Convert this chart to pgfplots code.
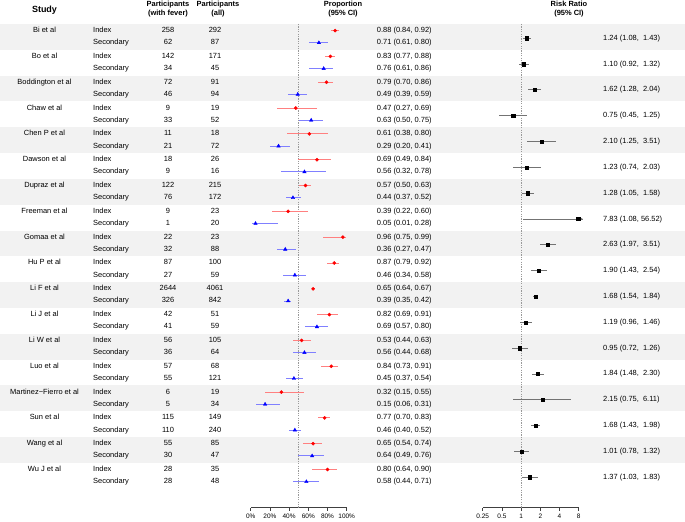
\documentclass[border=0pt]{standalone}
\usepackage{fontspec}
\setmainfont{Liberation Sans}
\usepackage{pgfplots}
\usepackage{pgfplotstable}
\pgfplotsset{compat=1.18}
\usetikzlibrary{arrows.meta}

% index = index cases, s = secondary cases, rr = risk ratio
\pgfplotstableread[col sep=comma]{
study,fi,ni,p,pl,pu,fs,ns,s,sl,su,rr,rl,ru
Bi et al,258,292,0.88,0.84,0.92,62,87,0.71,0.61,0.80,1.24,1.08,1.43
Bo et al,142,171,0.83,0.77,0.88,34,45,0.76,0.61,0.86,1.10,0.92,1.32
Boddington et al,72,91,0.79,0.70,0.86,46,94,0.49,0.39,0.59,1.62,1.28,2.04
Chaw et al,9,19,0.47,0.27,0.69,33,52,0.63,0.50,0.75,0.75,0.45,1.25
Chen P et al,11,18,0.61,0.38,0.80,21,72,0.29,0.20,0.41,2.10,1.25,3.51
Dawson et al,18,26,0.69,0.49,0.84,9,16,0.56,0.32,0.78,1.23,0.74,2.03
Dupraz et al,122,215,0.57,0.50,0.63,76,172,0.44,0.37,0.52,1.28,1.05,1.58
Freeman et al,9,23,0.39,0.22,0.60,1,20,0.05,0.01,0.28,7.83,1.08,56.52
Gomaa et al,22,23,0.96,0.75,0.99,32,88,0.36,0.27,0.47,2.63,1.97,3.51
Hu P et al,87,100,0.87,0.79,0.92,27,59,0.46,0.34,0.58,1.90,1.43,2.54
Li F et al,2644,4061,0.65,0.64,0.67,326,842,0.39,0.35,0.42,1.68,1.54,1.84
Li J et al,42,51,0.82,0.69,0.91,41,59,0.69,0.57,0.80,1.19,0.96,1.46
Li W et al,56,105,0.53,0.44,0.63,36,64,0.56,0.44,0.68,0.95,0.72,1.26
Luo et al,57,68,0.84,0.73,0.91,55,121,0.45,0.37,0.54,1.84,1.48,2.30
Martinez−Fierro et al,6,19,0.32,0.15,0.55,5,34,0.15,0.06,0.31,2.15,0.75,6.11
Sun et al,115,149,0.77,0.70,0.83,110,240,0.46,0.40,0.52,1.68,1.43,1.98
Wang et al,55,85,0.65,0.54,0.74,30,47,0.64,0.49,0.76,1.01,0.78,1.32
Wu J et al,28,35,0.80,0.64,0.90,28,48,0.58,0.44,0.71,1.37,1.03,1.83
}\data

\pgfplotsset{
  txt/.style={draw=none, mark=none, forget plot, nodes near coords,
    point meta=explicit symbolic,
    every node near coord/.append style={font=\fontsize{7.5}{9}\selectfont,
      inner sep=0pt, anchor=#1, text=black, text height=5.5bp, text depth=1.5bp,
      /pgf/number format/.cd, fixed, fixed zerofill, precision=2,
      assume math mode=true}},
  panel/.style={anchor=south west, scale only axis, width=96bp, height=507.5bp,
    ymin=-507.5, ymax=0, axis x line*=bottom, axis y line=none, clip=false,
    x axis line style={-, black!75, line width=0.6bp},
    tick align=outside, major tick length=3bp,
    tick style={black!75, line width=0.6bp},
    ticklabel style={font=\fontsize{6.5}{7}\selectfont, text=black},
    /pgf/number format/assume math mode=true},
}
% row positions in pixels from the top
\def\yi{-(30.6+25.82*\coordindex)}
\def\ys{-(42.8+25.82*\coordindex)}
\def\yr{-(38.3+25.82*\coordindex)}
\newcommand\num[1]{\pgfmathprintnumber{#1}}

\begin{document}
\begin{tikzpicture}
\useasboundingbox (0,0) rectangle (685bp,522bp);

\begin{axis}[at={(0,0)}, anchor=south west, scale only axis,
  width=685bp, height=522bp, xmin=0, xmax=685, ymin=-522, ymax=0,
  hide axis, clip=false]
\pgfplotsinvokeforeach{0,2,...,16}{
  \fill[gray!10] (axis cs:0,{-(24+25.82*#1)}) rectangle (axis cs:685,{-(24+25.82*(#1+1))});
}
\addplot[txt=center] table[x expr=44.5, y expr=\yi, meta=study]{\data};
\addplot[txt=west, nodes near coords={Index}] table[x expr=93, y expr=\yi, meta=study]{\data};
\addplot[txt=west, nodes near coords={Secondary}] table[x expr=93, y expr=\ys, meta=study]{\data};
\addplot[txt=center] table[x expr=168, y expr=\yi, meta=fi]{\data};
\addplot[txt=center] table[x expr=168, y expr=\ys, meta=fs]{\data};
\addplot[txt=center] table[x expr=215, y expr=\yi, meta=ni]{\data};
\addplot[txt=center] table[x expr=215, y expr=\ys, meta=ns]{\data};
\addplot[txt=west, visualization depends on={\thisrow{pl}\as\lo},
  visualization depends on={\thisrow{pu}\as\hi},
  nodes near coords={\pgfplotspointmeta\ (\num{\lo}, \num{\hi})}]
  table[x expr=376.7, y expr=\yi, meta=p]{\data};
\addplot[txt=west, visualization depends on={\thisrow{sl}\as\lo},
  visualization depends on={\thisrow{su}\as\hi},
  nodes near coords={\pgfplotspointmeta\ (\num{\lo}, \num{\hi})}]
  table[x expr=376.7, y expr=\ys, meta=s]{\data};
\addplot[txt=west, visualization depends on={\thisrow{rl}\as\lo},
  visualization depends on={\thisrow{ru}\as\hi},
  nodes near coords={\pgfplotspointmeta\ (\num{\lo},\ \ifdim\hi pt<10pt\ \fi\num{\hi})}]
  table[x expr=603, y expr=\yr, meta=rr]{\data};
\end{axis}

\begin{scope}[font=\bfseries\fontsize{7.5}{9.5}\selectfont, align=center]
\node[font=\bfseries\fontsize{9}{10}\selectfont] at (44.5bp,512bp) {Study};
\node at (168bp,513bp) {Participants\\(with fever)};
\node at (218bp,513bp) {Participants\\(all)};
\node at (343bp,513bp) {Proportion\\(95\% CI)};
\node at (569bp,513bp) {Risk Ratio\\(95\% CI)};
\end{scope}

\begin{axis}[panel, at={(250.7bp,14.5bp)}, xmin=0, xmax=1,
  xtick={0,0.2,0.4,0.6,0.8,1},
  xticklabels={0\%,20\%,40\%,60\%,80\%,100\%}]
\draw[black!40, dash pattern=on 1.2bp off 1.2bp, line width=0.7bp]
  (axis cs:0.5,-24) -- (axis cs:0.5,-507.5);
\addplot[only marks, mark=*, mark size=1.6bp, red,
  error bars/.cd, x dir=both, x explicit, error mark=none,
  error bar style={red!50, line width=0.9bp}]
  table[x=p, y expr=\yi, x error plus expr=\thisrow{pu}-\thisrow{p},
    x error minus expr=\thisrow{p}-\thisrow{pl}]{\data};
\addplot[only marks, mark=triangle*, mark size=2bp, blue,
  error bars/.cd, x dir=both, x explicit, error mark=none,
  error bar style={blue!50, line width=0.9bp}]
  table[x=s, y expr=\ys, x error plus expr=\thisrow{su}-\thisrow{s},
    x error minus expr=\thisrow{s}-\thisrow{sl}]{\data};
\end{axis}

\begin{axis}[panel, at={(482.7bp,14.5bp)}, xmode=log, log basis x=2,
  xmin=0.25, xmax=8, xtick={0.25,0.5,1,2,4,8},
  xticklabels={0.25,0.5,1,2,4,8}]
\draw[black!40, dash pattern=on 1.2bp off 1.2bp, line width=0.7bp]
  (axis cs:1,-24) -- (axis cs:1,-507.5);
\addplot[black!55, line width=0.9bp, -{Stealth[length=3bp,width=3bp]}, forget plot]
  coordinates {(7.83,-219.04) (9.3,-219.04)};
\addplot[only marks, mark=square*, mark size=1.6bp, black,
  error bars/.cd, x dir=both, x explicit, error mark=none,
  error bar style={black!55, line width=0.9bp}]
  table[x=rr, y expr=\yr, x error plus expr={min(\thisrow{ru},9.3)-\thisrow{rr}},
    x error minus expr=\thisrow{rr}-\thisrow{rl}]{\data};
\end{axis}
\end{tikzpicture}
\end{document}
